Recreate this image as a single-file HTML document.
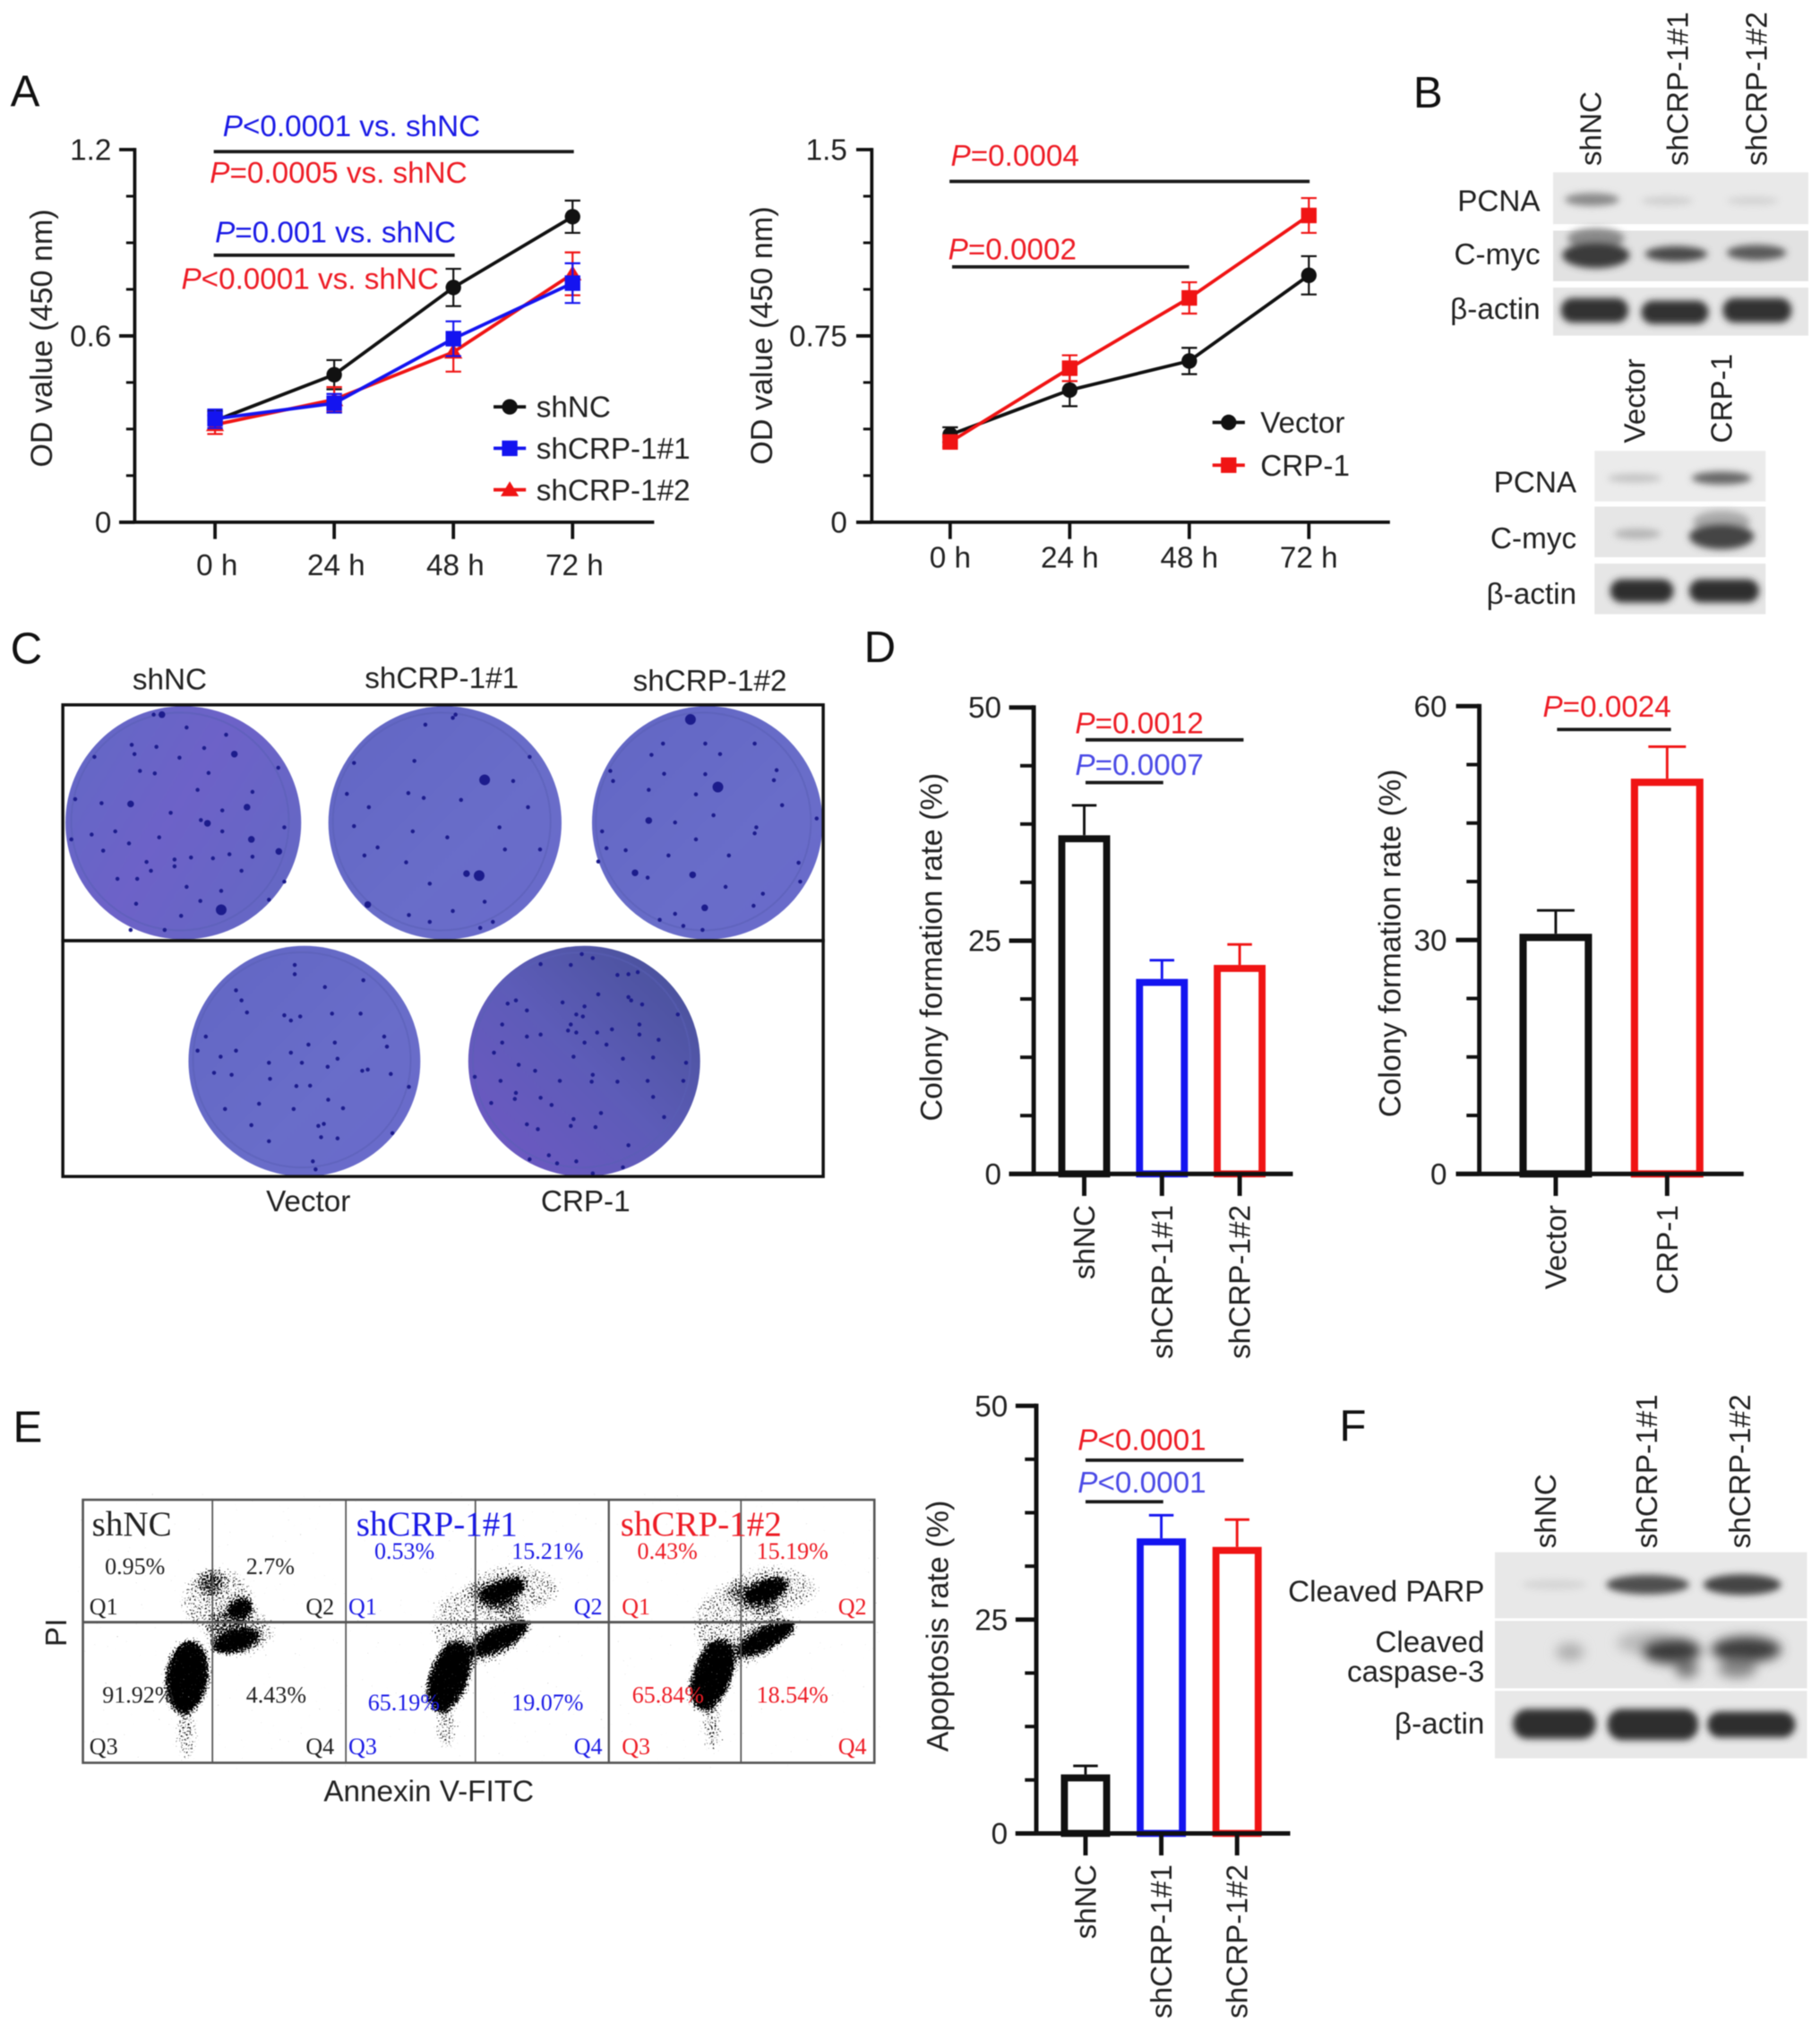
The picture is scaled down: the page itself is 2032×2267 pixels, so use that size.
<!DOCTYPE html>
<html lang="en">
<head>
<meta charset="utf-8">
<title>CRP-1 figure</title>
<style>
html,body{margin:0;padding:0;background:#fff;width:2032px;height:2267px;overflow:hidden}
svg{display:block;filter:blur(0.6px)}
text{font-family:"Liberation Sans",sans-serif;font-size:23px;fill:#222}
.serif text,text.serif{font-family:"Liberation Serif",serif}
.letter{font-size:34px;fill:#111}
.red{fill:#ee1c25}.blue{fill:#1a1ae6}.lblue{fill:#4a4ae6}
.it{font-style:italic}
.pct{font-size:18px}
.bar-line{stroke:#1a1a1a;stroke-width:2.6;fill:none}
.q{stroke:#555;fill:none}
.rim{fill:none;stroke:#5a5eb4;stroke-width:1.4;opacity:.55}
</style>
</head>
<body>
<svg id="figure" xmlns="http://www.w3.org/2000/svg" width="2032" height="2267" viewBox="0 0 1405 1567.5">
<defs>
<filter id="b2" x="-30%" y="-60%" width="160%" height="220%"><feGaussianBlur stdDeviation="2.8"/></filter>
<filter id="b4" x="-40%" y="-80%" width="180%" height="260%"><feGaussianBlur stdDeviation="4.5"/></filter>
<filter id="speck" filterUnits="userSpaceOnUse" x="60" y="1150" width="620" height="215" color-interpolation-filters="sRGB">
  <feGaussianBlur in="SourceAlpha" stdDeviation="3" result="blob"/>
  <feTurbulence type="fractalNoise" baseFrequency="0.75" numOctaves="2" seed="7" result="n"/>
  <feColorMatrix in="n" type="matrix" values="0 0 0 0 0  0 0 0 0 0  0 0 0 0 0  0 0 0 1 0" result="na"/>
  <feComposite in="blob" in2="na" operator="arithmetic" k1="0" k2="0.72" k3="1" k4="0" result="sum"/>
  <feComponentTransfer in="sum"><feFuncA type="linear" slope="9" intercept="-7.6"/></feComponentTransfer>
</filter>
<linearGradient id="plateA" x1="0" y1="0.2" x2="1" y2="0.8"><stop offset="0" stop-color="#6468c6"/><stop offset="0.45" stop-color="#6d62c8"/><stop offset="1" stop-color="#6468c4"/></linearGradient>
<linearGradient id="plateB" x1="0" y1="0" x2="1" y2="1"><stop offset="0" stop-color="#6266c4"/><stop offset="0.6" stop-color="#696dc9"/><stop offset="1" stop-color="#6a6acb"/></linearGradient>
<linearGradient id="plateC" x1="0" y1="1" x2="1" y2="0"><stop offset="0" stop-color="#7058c4"/><stop offset="0.5" stop-color="#5d5cb8"/><stop offset="1" stop-color="#454f95"/></linearGradient>
</defs>

<rect width="1405" height="1567.5" fill="#fff"/>

<text class="letter" x="8" y="82">A</text>
<text class="letter" x="1091" y="83">B</text>
<text class="letter" x="8" y="512">C</text>
<text class="letter" x="667" y="511">D</text>
<text class="letter" x="10" y="1113">E</text>
<text class="letter" x="1034" y="1112">F</text>

<g id="chart-od-kd"></g>
<g id="chart-od-oe"></g>
<g id="chart-col-kd"></g>
<g id="chart-col-oe"></g>
<g id="chart-apo"></g>

<!-- significance annotations -->
<g>
  <text class="blue" x="172" y="105"><tspan class="it">P</tspan>&lt;0.0001 vs. shNC</text>
  <line class="bar-line" x1="165" y1="117" x2="443" y2="117"/>
  <text class="red" x="162" y="141"><tspan class="it">P</tspan>=0.0005 vs. shNC</text>
  <text class="blue" x="166" y="187"><tspan class="it">P</tspan>=0.001 vs. shNC</text>
  <line class="bar-line" x1="165" y1="197" x2="351" y2="197"/>
  <text class="red" x="140" y="223"><tspan class="it">P</tspan>&lt;0.0001 vs. shNC</text>
</g>
<g>
  <text class="red" x="734" y="128"><tspan class="it">P</tspan>=0.0004</text>
  <line class="bar-line" x1="733" y1="140" x2="1011" y2="140"/>
  <text class="red" x="732" y="200"><tspan class="it">P</tspan>=0.0002</text>
  <line class="bar-line" x1="735" y1="206" x2="918" y2="206"/>
</g>
<g>
  <text class="red" x="830" y="566"><tspan class="it">P</tspan>=0.0012</text>
  <line class="bar-line" x1="838" y1="571" x2="960" y2="571"/>
  <text class="lblue" x="830" y="598"><tspan class="it">P</tspan>=0.0007</text>
  <line class="bar-line" x1="838" y1="604" x2="898" y2="604"/>
  <text class="red" x="1191" y="553"><tspan class="it">P</tspan>=0.0024</text>
  <line class="bar-line" x1="1202" y1="563" x2="1290" y2="563"/>
</g>
<g>
  <text class="red" x="832" y="1119"><tspan class="it">P</tspan>&lt;0.0001</text>
  <line class="bar-line" x1="838" y1="1127" x2="960" y2="1127"/>
  <text class="lblue" x="832" y="1152"><tspan class="it">P</tspan>&lt;0.0001</text>
  <line class="bar-line" x1="838" y1="1159" x2="898" y2="1159"/>
</g>

<!-- Panel B blots -->
<g>
  <text transform="translate(1236,128) rotate(-90)">shNC</text>
  <text transform="translate(1303,128) rotate(-90)">shCRP-1#1</text>
  <text transform="translate(1364,128) rotate(-90)">shCRP-1#2</text>
  <rect x="1199" y="133" width="197" height="40" fill="#e9e9e9"/>
  <rect x="1199" y="178" width="197" height="39" fill="#e2e2e2"/>
  <rect x="1199" y="222" width="197" height="37" fill="#e6e6e6"/>
  <g filter="url(#b2)">
    <ellipse cx="1229" cy="154" rx="21" ry="5" fill="#8a8a8a"/>
    <ellipse cx="1287" cy="155" rx="20" ry="3.5" fill="#d0d0d0"/>
    <ellipse cx="1353" cy="155" rx="20" ry="3.5" fill="#d4d4d4"/>
    <ellipse cx="1232" cy="184" rx="22" ry="8" fill="#8a8a8a"/>
    <ellipse cx="1232" cy="197" rx="26" ry="10" fill="#3a3a3a"/>
    <ellipse cx="1294" cy="196" rx="24" ry="6" fill="#4a4a4a"/>
    <ellipse cx="1356" cy="195" rx="23" ry="6" fill="#5a5a5a"/>
    <rect x="1205" y="230" width="52" height="19" rx="9" fill="#303030"/>
    <rect x="1267" y="232" width="52" height="18" rx="9" fill="#333"/>
    <rect x="1330" y="230" width="53" height="19" rx="9" fill="#303030"/>
  </g>
  <text x="1189" y="163" text-anchor="end">PCNA</text>
  <text x="1189" y="204" text-anchor="end">C-myc</text>
  <text x="1189" y="246" text-anchor="end">β-actin</text>
</g>
<g>
  <text transform="translate(1270,342) rotate(-90)">Vector</text>
  <text transform="translate(1337,342) rotate(-90)">CRP-1</text>
  <rect x="1231" y="348" width="132" height="39" fill="#ebebeb"/>
  <rect x="1231" y="391" width="132" height="39" fill="#e6e6e6"/>
  <rect x="1231" y="435" width="132" height="39" fill="#e6e6e6"/>
  <g filter="url(#b2)">
    <ellipse cx="1262" cy="369" rx="21" ry="3.5" fill="#c4c4c4"/>
    <ellipse cx="1329" cy="369" rx="23" ry="5" fill="#666"/>
    <ellipse cx="1264" cy="412" rx="18" ry="4" fill="#b5b5b5"/>
    <ellipse cx="1329" cy="403" rx="22" ry="9" fill="#aaa"/>
    <ellipse cx="1329" cy="414" rx="25" ry="10" fill="#444"/>
    <rect x="1243" y="447" width="49" height="18" rx="9" fill="#2e2e2e"/>
    <rect x="1304" y="447" width="54" height="18" rx="9" fill="#2e2e2e"/>
  </g>
  <text x="1217" y="380" text-anchor="end">PCNA</text>
  <text x="1217" y="423" text-anchor="end">C-myc</text>
  <text x="1217" y="466" text-anchor="end">β-actin</text>
</g>

<!-- Panel C plates -->
<g>
  <text x="131" y="532" text-anchor="middle">shNC</text>
  <text x="341" y="531" text-anchor="middle">shCRP-1#1</text>
  <text x="548" y="533" text-anchor="middle">shCRP-1#2</text>
  <text x="238" y="935" text-anchor="middle">Vector</text>
  <text x="452" y="935" text-anchor="middle">CRP-1</text>
  <ellipse cx="141.5" cy="635" rx="91" ry="90" fill="url(#plateA)"/>
  <ellipse class="rim" cx="139" cy="634" rx="84" ry="84"/>
  <ellipse cx="343.5" cy="635" rx="90" ry="90" fill="url(#plateB)"/>
  <ellipse class="rim" cx="341" cy="634" rx="84" ry="84"/>
  <ellipse cx="546" cy="635" rx="89" ry="90" fill="url(#plateB)"/>
  <ellipse class="rim" cx="543" cy="634" rx="83" ry="84"/>
  <ellipse cx="235" cy="819" rx="89.5" ry="89" fill="url(#plateB)"/>
  <ellipse class="rim" cx="233" cy="818" rx="84" ry="83"/>
  <ellipse cx="451" cy="819" rx="89.5" ry="89" fill="url(#plateC)"/>
  <ellipse class="rim" cx="449" cy="818" rx="84" ry="83"/>
  <g transform="translate(0,477) scale(.4237,.3106)" fill="none" stroke="#1c1c8c" stroke-linecap="round">
    <path vector-effect="non-scaling-stroke" stroke-width="4.5" d="M240 315h0M285 320h0M372 323h0M172 345h0M245 338h0M327 347h0M255 380h0M282 386h0M380 385h0M507 372h0M412 290h0M340 272h0M280 240h0M360 427h0M460 432h0M137 450h0M185 460h0M311 484h0M405 478h0M366 502h0M518 520h0M130 550h0M167 538h0M210 530h0M290 545h0M405 530h0M188 578h0M235 560h0M267 606h0M318 600h0M318 617h0M388 597h0M418 587h0M348 595h0M460 593h0M275 628h0M214 648h0M250 648h0M440 628h0M340 668h0M403 678h0M518 655h0M248 710h0M365 703h0M490 700h0M330 740h0M300 775h0M238 775h0
    M775 265h0M825 248h0M645 360h0M755 355h0M965 345h0M935 405h0M632 437h0M744 435h0M772 447h0M840 452h0M672 470h0M962 470h0M645 517h0M752 530h0M910 520h0M815 545h0M920 575h0M984 575h0M688 570h0M664 590h0M740 607h0M783 660h0M883 705h0M825 728h0M745 738h0M783 755h0M898 755h0M875 770h0M830 240h0
    M1375 312h0M1285 312h0M1208 312h0M1312 338h0M1187 340h0M1112 380h0M1210 387h0M1285 388h0M1415 378h0M1117 405h0M1182 427h0M1410 403h0M1268 438h0M1425 465h0M1300 490h0M1230 508h0M1378 520h0M1375 535h0M1488 498h0M1268 550h0M1097 530h0M1105 572h0M1140 577h0M1218 590h0M1328 590h0M1090 605h0M1455 608h0M1180 645h0M1322 668h0M1390 685h0M1458 655h0M1373 715h0M1202 750h0M1245 765h0M1280 775h0M1230 735h0
    M537 862h0M537 885h0M592 917h0M662 900h0M430 925h0M440 950h0M450 980h0M518 987h0M547 990h0M530 1000h0M605 983h0M657 983h0M375 1040h0M360 1075h0M402 1090h0M430 1075h0M610 1055h0M700 1040h0M705 1065h0M562 1060h0M530 1080h0M490 1105h0M550 1105h0M597 1115h0M615 1095h0M660 1125h0M670 1122h0M712 1133h0M390 1130h0M422 1135h0M492 1145h0M540 1163h0M565 1162h0M745 1165h0M598 1197h0M410 1220h0M472 1207h0M535 1220h0M625 1218h0M580 1262h0M590 1257h0M458 1260h0M490 1300h0M615 1293h0M585 1290h0M715 1280h0M570 1350h0M575 1370h0
    M985 860h0M1040 862h0M1080 845h0M1060 835h0M1125 887h0M1145 885h0M1162 880h0M940 950h0M925 958h0M960 975h0M1025 955h0M1065 965h0M1090 935h0M1145 942h0M1150 950h0M1170 960h0M1235 985h0M1050 985h0M1062 990h0M1040 1010h0M1035 1025h0M1050 1030h0M1088 1030h0M1115 1022h0M1165 1010h0M1165 1035h0M915 1010h0M985 1035h0M915 1055h0M960 1040h0M1065 1055h0M1105 1060h0M1200 1048h0M900 1080h0M1045 1090h0M1135 1095h0M1190 1092h0M945 1110h0M975 1125h0M1080 1135h0M1250 1105h0M1245 1150h0M865 1140h0M912 1150h0M1020 1150h0M1078 1152h0M1125 1152h0M1180 1150h0M940 1180h0M938 1195h0M985 1192h0M1005 1210h0M895 1205h0M1095 1230h0M1190 1190h0M1045 1245h0M1210 1240h0M960 1258h0M980 1270h0M1040 1262h0M1085 1265h0M1145 1310h0M1000 1335h0M1015 1355h0M1050 1350h0M1135 1365h0M1080 1380h0M965 1345h0"/>
    <path vector-effect="non-scaling-stroke" stroke-width="7.5" d="M427 338h0M295 240h0M238 462h0M450 470h0M378 510h0M458 550h0M508 580h0M850 635h0M670 712h0M1182 503h0M1157 633h0M1262 638h0M1284 720h0"/>
    <path vector-effect="non-scaling-stroke" stroke-width="12" d="M403 725h0M883 402h0M873 640h0M1258 252h0M1308 420h0"/>
  </g>
  <rect x="48.5" y="544" width="587" height="182" fill="none" stroke="#111" stroke-width="2.4"/>
  <rect x="48.5" y="726" width="587" height="182" fill="none" stroke="#111" stroke-width="2.4"/>
</g>

<!-- Panel E flow cytometry -->
<g>
  <g filter="url(#speck)">
    <g transform="translate(0,1079.3) scale(.4415,.2299)">
      <ellipse cx="327" cy="935" rx="38" ry="125" transform="rotate(3 327 935)"/>
      <ellipse cx="325" cy="1125" rx="18" ry="90" opacity=".38"/>
      <ellipse cx="412" cy="815" rx="30" ry="52" transform="rotate(45 412 815)"/>
      <ellipse cx="420" cy="705" rx="20" ry="35" transform="rotate(10 420 705)"/>
      <ellipse cx="380" cy="680" rx="65" ry="115" opacity=".34"/>
      <ellipse cx="420" cy="780" rx="60" ry="85" opacity=".34"/>
      <ellipse cx="370" cy="620" rx="24" ry="45" opacity=".42"/>

      <ellipse cx="785" cy="935" rx="36" ry="120" transform="rotate(8 785 935)"/>
      <ellipse cx="780" cy="1105" rx="18" ry="80" opacity=".38"/>
      <ellipse cx="875" cy="805" rx="28" ry="75" transform="rotate(40 875 805)"/>
      <ellipse cx="880" cy="645" rx="28" ry="50" transform="rotate(40 880 645)"/>
      <ellipse cx="835" cy="760" rx="80" ry="140" opacity=".34"/>
      <ellipse cx="900" cy="640" rx="80" ry="85" opacity=".34"/>

      <ellipse cx="1245" cy="930" rx="36" ry="120" transform="rotate(8 1245 930)"/>
      <ellipse cx="1245" cy="1105" rx="18" ry="85" opacity=".38"/>
      <ellipse cx="1340" cy="805" rx="28" ry="75" transform="rotate(40 1340 805)"/>
      <ellipse cx="1340" cy="645" rx="28" ry="48" transform="rotate(40 1340 645)"/>
      <ellipse cx="1290" cy="760" rx="80" ry="140" opacity=".34"/>
      <ellipse cx="1350" cy="640" rx="80" ry="80" opacity=".34"/>
    </g>
  </g>
  <rect class="q" x="64" y="1157.5" width="611" height="203" stroke-width="1.8"/>
  <line class="q" x1="64" y1="1252" x2="675" y2="1252" stroke-width="2"/>
  <line class="q" x1="164" y1="1157" x2="164" y2="1360" stroke-width="1.2"/>
  <line class="q" x1="267" y1="1157" x2="267" y2="1360" stroke-width="1.2"/>
  <line class="q" x1="367" y1="1157" x2="367" y2="1360" stroke-width="1.2"/>
  <line class="q" x1="470" y1="1157" x2="470" y2="1360" stroke-width="1.6"/>
  <line class="q" x1="572" y1="1157" x2="572" y2="1360" stroke-width="1.2"/>
  <g class="serif">
    <text x="71" y="1185" style="font-size:27px">shNC</text>
    <text class="pct" x="81" y="1215">0.95%</text>
    <text class="pct" x="190" y="1215">2.7%</text>
    <text class="pct" x="79" y="1314">91.92%</text>
    <text class="pct" x="190" y="1314">4.43%</text>
    <text class="pct" x="69" y="1246">Q1</text>
    <text class="pct" x="236" y="1246">Q2</text>
    <text class="pct" x="69" y="1354">Q3</text>
    <text class="pct" x="236" y="1354">Q4</text>
  </g>
  <g class="serif">
    <text class="blue" x="275" y="1185" style="font-size:27px">shCRP-1#1</text>
    <text class="pct blue" x="289" y="1203">0.53%</text>
    <text class="pct blue" x="395" y="1203">15.21%</text>
    <text class="pct blue" x="284" y="1320">65.19%</text>
    <text class="pct blue" x="395" y="1320">19.07%</text>
    <text class="pct blue" x="269" y="1246">Q1</text>
    <text class="pct blue" x="443" y="1246">Q2</text>
    <text class="pct blue" x="269" y="1354">Q3</text>
    <text class="pct blue" x="443" y="1354">Q4</text>
  </g>
  <g class="serif">
    <text class="red" x="479" y="1185" style="font-size:27px">shCRP-1#2</text>
    <text class="pct red" x="492" y="1203">0.43%</text>
    <text class="pct red" x="584" y="1203">15.19%</text>
    <text class="pct red" x="488" y="1314">65.84%</text>
    <text class="pct red" x="584" y="1314">18.54%</text>
    <text class="pct red" x="480" y="1246">Q1</text>
    <text class="pct red" x="647" y="1246">Q2</text>
    <text class="pct red" x="480" y="1354">Q3</text>
    <text class="pct red" x="647" y="1354">Q4</text>
  </g>
  <text x="331" y="1390" text-anchor="middle">Annexin V-FITC</text>
  <text transform="translate(51,1260) rotate(-90)" text-anchor="middle">PI</text>
</g>

<!-- Panel F blot -->
<g>
  <text transform="translate(1201,1195) rotate(-90)">shNC</text>
  <text transform="translate(1279,1195) rotate(-90)">shCRP-1#1</text>
  <text transform="translate(1351,1195) rotate(-90)">shCRP-1#2</text>
  <rect x="1154" y="1198" width="241" height="51" fill="#e8e8e8"/>
  <rect x="1154" y="1251" width="241" height="52" fill="#e6e6e6"/>
  <rect x="1154" y="1305" width="241" height="52" fill="#e8e8e8"/>
  <g filter="url(#b2)">
    <ellipse cx="1200" cy="1223" rx="25" ry="4" fill="#d6d6d6"/>
    <ellipse cx="1272" cy="1223" rx="32" ry="7.5" fill="#505050"/>
    <ellipse cx="1345" cy="1223" rx="30" ry="8" fill="#444"/>
    <rect x="1168" y="1319" width="64" height="23" rx="11" fill="#2e2e2e"/>
    <rect x="1241" y="1319" width="70" height="24" rx="11" fill="#2e2e2e"/>
    <rect x="1318" y="1321" width="68" height="20" rx="10" fill="#2e2e2e"/>
  </g>
  <g filter="url(#b4)">
    <ellipse cx="1212" cy="1275" rx="11" ry="7" fill="#b0b0b0"/>
    <ellipse cx="1272" cy="1268" rx="24" ry="9" fill="#bcbcbc"/>
    <ellipse cx="1290" cy="1274" rx="23" ry="10" fill="#3a3a3a"/>
    <ellipse cx="1302" cy="1288" rx="9" ry="7" fill="#777"/>
    <ellipse cx="1348" cy="1273" rx="27" ry="10" fill="#3e3e3e"/>
    <ellipse cx="1341" cy="1288" rx="15" ry="7" fill="#888"/>
  </g>
  <text x="1146" y="1236" text-anchor="end">Cleaved PARP</text>
  <text x="1146" y="1275" text-anchor="end">Cleaved</text>
  <text x="1146" y="1298" text-anchor="end">caspase-3</text>
  <text x="1146" y="1338" text-anchor="end">β-actin</text>
</g>

<script>
/* ---------- chart data ---------- */
const timeLabels = ['0 h', '24 h', '48 h', '72 h'];

const odKdTicks = ['0', '0.6', '1.2'];
const odKdShNC = [0.327, 0.475, 0.756, 0.984];
const odKdShNCErr = [0.03, 0.047, 0.06, 0.052];
const odKdSh1 = [0.333, 0.383, 0.591, 0.77];
const odKdSh1Err = [0.03, 0.03, 0.056, 0.064];
const odKdSh2 = [0.314, 0.395, 0.548, 0.80];
const odKdSh2Err = [0.03, 0.04, 0.063, 0.069];

const odOeTicks = ['0', '0.75', '1.5'];
const odOeVector = [0.352, 0.532, 0.649, 0.994];
const odOeVectorErr = [0.03, 0.065, 0.053, 0.077];
const odOeCrp = [0.323, 0.62, 0.903, 1.235];
const odOeCrpErr = [0.02, 0.052, 0.063, 0.07];

const colonyKdCategories = ['shNC', 'shCRP-1#1', 'shCRP-1#2'];
const colonyKdTicks = ['0', '25', '50'];
const colonyKdValues = [36.3, 20.9, 22.4];
const colonyKdErrors = [3.2, 2.0, 2.2];

const colonyOeCategories = ['Vector', 'CRP-1'];
const colonyOeTicks = ['0', '30', '60'];
const colonyOeValues = [30.8, 50.7];
const colonyOeErrors = [3.0, 4.1];

const apoptosisCategories = ['shNC', 'shCRP-1#1', 'shCRP-1#2'];
const apoptosisTicks = ['0', '25', '50'];
const apoptosisValues = [6.9, 34.5, 33.5];
const apoptosisErrors = [1.0, 2.7, 3.2];

/* ---------- helpers ---------- */
const NS = 'http://www.w3.org/2000/svg';
function mk(tag, parent, attrs, txt) {
  const el = document.createElementNS(NS, tag);
  for (const k in attrs) el.setAttribute(k, attrs[k]);
  if (txt !== undefined) el.textContent = txt;
  parent.appendChild(el);
  return el;
}
const BLACK = '#111', BLUE = '#1414f0', RED = '#f01414';

function drawAxes(g, c, tickLabels) {
  const top = +tickLabels[tickLabels.length - 1];
  const y = v => c.y0 - (v / top) * (c.y0 - c.y1);
  const yAxis = mk('line', g, {x1: c.ax, x2: c.ax, y1: c.y1 - c.sw / 2, y2: c.y0, stroke: BLACK, 'stroke-width': c.sw});
  
  
  const xAxis = mk('line', g, {x1: c.left, x2: c.right, y1: c.y0, y2: c.y0, stroke: BLACK, 'stroke-width': c.sw});
  
  
  for (let i = 0; i < tickLabels.length; i++) {
    const v = +tickLabels[i];
    const tick = mk('line', g, {x1: c.left, x2: c.ax, y1: y(v), y2: y(v), stroke: BLACK, 'stroke-width': c.sw});
    
    
    const lab = mk('text', g, {x: c.ax - c.labelGap, y: y(v) + 8, 'text-anchor': 'end'}, tickLabels[i]);
    
    
    if (i < tickLabels.length - 1) {
      const next = +tickLabels[i + 1];
      for (let m = 1; m < 4; m++) {
        const mv = v + (next - v) * m / 4;
        const minor = mk('line', g, {x1: c.ax - (c.ax - c.left) * 0.55, x2: c.ax, y1: y(mv), y2: y(mv), stroke: BLACK, 'stroke-width': c.sw * 0.8});
        
        
      }
    }
  }
  const title = mk('text', g, {transform: 'translate(' + c.titleX + ',' + c.titleY + ') rotate(-90)', 'text-anchor': 'middle', style: 'font-size:23.6px'}, c.title);
  
  
  return y;
}

function marker(g, kind, x, y, color) {
  let m;
  if (kind === 'circle') m = mk('circle', g, {cx: x, cy: y, r: 6, fill: color});
  else if (kind === 'square') m = mk('rect', g, {x: x - 6, y: y - 6, width: 12, height: 12, fill: color});
  else m = mk('polygon', g, {points: (x) + ',' + (y - 6.5) + ' ' + (x + 7) + ',' + (y + 5) + ' ' + (x - 7) + ',' + (y + 5), fill: color});
  return m;
}

function lineChart(id, c, tickLabels, series) {
  const g = document.getElementById(id);
  const y = drawAxes(g, c, tickLabels);
  const x = i => c.x0 + i * c.step;
  timeLabels.forEach((t, i) => {
    const tk = mk('line', g, {x1: x(i), x2: x(i), y1: c.y0, y2: c.y0 + 13, stroke: BLACK, 'stroke-width': c.sw});
    
    
    const lb = mk('text', g, {x: x(i) + c.labelShift, y: c.xLabelY, 'text-anchor': 'middle'}, t);
    
    
  });
  series.forEach(s => {
    const sg = mk('g', g, {});
    
    
    const pts = s.values.map((v, i) => x(i) + ',' + y(v)).join(' ');
    const line = mk('polyline', sg, {points: pts, fill: 'none', stroke: s.color, 'stroke-width': 2.6});
    
    
    s.values.forEach((v, i) => {
      const hi = y(v + s.errors[i]), lo = y(v - s.errors[i]);
      const eb = mk('path', sg, {d: 'M' + x(i) + ' ' + hi + 'V' + lo + 'M' + (x(i) - 6) + ' ' + hi + 'h12M' + (x(i) - 6) + ' ' + lo + 'h12', fill: 'none', stroke: s.color, 'stroke-width': 1.5});
      
      
      const pt = marker(sg, s.kind, x(i), y(v), s.color);
      
      
    });
  });
  c.legendY.forEach((ly, i) => {
    const s = series[c.legendOrder[i]];
    const lg = mk('g', g, {});
    
    
    mk('line', lg, {x1: c.legendX, x2: c.legendX + c.legendLen, y1: ly, y2: ly, stroke: s.color, 'stroke-width': 2.6});
    marker(lg, s.kind, c.legendX + c.legendLen / 2, ly, s.color);
    mk('text', lg, {x: c.legendX + c.legendLen + c.legendGap, y: ly + 8}, s.label);
  });
}

function barChart(id, c, tickLabels, cats, values, errors, colors) {
  const g = document.getElementById(id);
  const y = drawAxes(g, c, tickLabels);
  const x = i => c.x0 + i * c.step;
  cats.forEach((cat, i) => {
    const v = values[i], sw = c.barStroke;
    const stem = mk('path', g, {d: 'M' + x(i) + ' ' + y(v) + 'V' + y(v + errors[i]) + 'M' + (x(i) - c.cap / 2) + ' ' + y(v + errors[i]) + 'h' + c.cap, fill: 'none', stroke: colors[i], 'stroke-width': 2});
    
    
    const bar = mk('rect', g, {x: x(i) - c.barW / 2 + sw / 2, y: y(v) + sw / 2, width: c.barW - sw, height: Math.max(0, c.y0 - y(v) - sw / 2), fill: '#fff', stroke: colors[i], 'stroke-width': sw});
    
    
    const tk = mk('line', g, {x1: x(i), x2: x(i), y1: c.y0, y2: c.y0 + 17, stroke: BLACK, 'stroke-width': c.sw});
    
    
    const lb = mk('text', g, {transform: 'translate(' + (x(i) + 8) + ',' + c.catTop + ') rotate(-90)', 'text-anchor': 'end'}, cat);
    
    
  });
  const base = mk('line', g, {x1: c.left, x2: c.right, y1: c.y0, y2: c.y0, stroke: BLACK, 'stroke-width': c.sw});
  
  
}

/* ---------- charts ---------- */
lineChart('chart-od-kd',
  {ax: 104, left: 92, right: 505, y0: 403, y1: 115.5, sw: 2.6, labelGap: 18, titleX: 40, titleY: 261, title: 'OD value (450 nm)',
   x0: 166, step: 92, labelShift: 1.5, xLabelY: 444, legendX: 381, legendLen: 25, legendGap: 8, legendY: [314, 346, 378], legendOrder: [0, 2, 1]},
  odKdTicks,
  [{key: 'shNC', label: 'shNC', color: BLACK, kind: 'circle', values: odKdShNC, errors: odKdShNCErr},
   {key: 'shCRP-1-2', label: 'shCRP-1#2', color: RED, kind: 'tri', values: odKdSh2, errors: odKdSh2Err},
   {key: 'shCRP-1-1', label: 'shCRP-1#1', color: BLUE, kind: 'square', values: odKdSh1, errors: odKdSh1Err}]);

lineChart('chart-od-oe',
  {ax: 673, left: 661, right: 1073, y0: 403, y1: 115.5, sw: 2.6, labelGap: 19, titleX: 596, titleY: 259, title: 'OD value (450 nm)',
   x0: 733.5, step: 92.3, labelShift: 0, xLabelY: 438, legendX: 936, legendLen: 25, legendGap: 12, legendY: [326, 359], legendOrder: [0, 1]},
  odOeTicks,
  [{key: 'vector', label: 'Vector', color: BLACK, kind: 'circle', values: odOeVector, errors: odOeVectorErr},
   {key: 'crp-1', label: 'CRP-1', color: RED, kind: 'square', values: odOeCrp, errors: odOeCrpErr}]);

barChart('chart-col-kd',
  {ax: 798, left: 779, right: 998, y0: 906, y1: 546, sw: 3.4, labelGap: 25, titleX: 727, titleY: 731, title: 'Colony formation rate (%)',
   x0: 837, step: 60, barW: 40, barStroke: 5.4, cap: 19, catTop: 930},
  colonyKdTicks, colonyKdCategories, colonyKdValues, colonyKdErrors, [BLACK, BLUE, RED]);

barChart('chart-col-oe',
  {ax: 1142, left: 1124, right: 1346, y0: 906, y1: 545, sw: 3.4, labelGap: 25, titleX: 1081, titleY: 728, title: 'Colony formation rate (%)',
   x0: 1201, step: 86, barW: 56, barStroke: 5.6, cap: 29, catTop: 930},
  colonyOeTicks, colonyOeCategories, colonyOeValues, colonyOeErrors, [BLACK, RED]);

barChart('chart-apo',
  {ax: 800, left: 784, right: 996, y0: 1415, y1: 1085, sw: 3.4, labelGap: 22, titleX: 732, titleY: 1255, title: 'Apoptosis rate (%)',
   x0: 838, step: 58.5, barW: 38, barStroke: 5.4, cap: 19, catTop: 1439},
  apoptosisTicks, apoptosisCategories, apoptosisValues, apoptosisErrors, [BLACK, BLUE, RED]);
</script>
</svg>
</body>
</html>
